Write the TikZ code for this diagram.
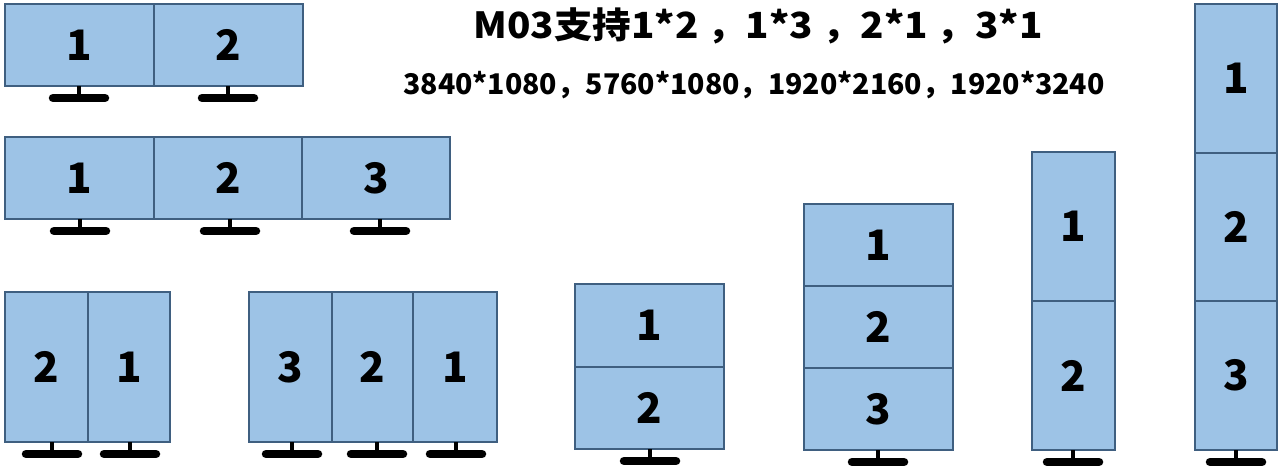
\documentclass[tikz,border=0pt]{standalone}
\usepackage{fontspec}
\newfontfamily\cjk{Noto Sans CJK SC}
\definecolor{panelFill}{HTML}{9DC3E6}
\definecolor{panelLine}{HTML}{3F5F80}

\begin{document}
\begin{tikzpicture}
[x=1pt,y=-1pt,
  panelDecorate/.style={shape=rectangle,draw=panelLine,fill=panelFill,line width=1.6pt,inner sep=0pt,%
    font=\cjk\bfseries\fontsize{42}{42}\selectfont},
  stemDecorate/.style={-,line width=4pt,black},
  baseDecorate/.style={-,line width=8.5pt,line cap=round,black},
  titleDecorate/.style={font=\cjk\bfseries\fontsize{36}{36}\selectfont,inner sep=0pt,xscale=1.07},
  sizeDecorate/.style={font=\cjk\bfseries\fontsize{28.5}{28.5}\selectfont,inner sep=0pt}]
\useasboundingbox (0,0) rectangle (1279,470);
%% screens
\foreach \panelname/\x/\y/\w/\h/\num in {%
  a1/79.5/45/149/82/1, a2/228.5/45/149/82/2,%
  b1/79.5/178/149/82/1, b2/228/178/148/82/2, b3/376/178/148/82/3,%
  c2/46.5/367/83/150/2, c1/129/367/82/150/1,%
  d3/290.5/367/83/150/3, d2/372.5/367/81/150/2, d1/455/367/84/150/1,%
  e1/649.5/325.5/149/83/1, e2/649.5/408/149/82/2,%
  f1/878.5/245/149/82/1, f2/878.5/327/149/82/2, f3/878.5/409/149/82/3,%
  g1/1073.5/226.5/83/149/1, g2/1073.5/375.5/83/149/2,%
  h1/1236/78.5/82/149/1, h2/1236/227/82/148/2, h3/1236/375.5/82/149/3} {
  \node (\panelname) at (\x,\y) [panelDecorate,minimum width=\w pt,minimum height=\h pt] {\num};
}
%% stands
\foreach \x/\y in {79/86, 228/86, 80/219, 230/219, 380/219, 52/442, 130/442,%
  292/442, 377/442, 456/442, 650/449, 878/450, 1073/450, 1236/450} {
  \draw[stemDecorate] (\x,\y) -- ++(0,8);
  \draw[baseDecorate] (\x-26,\y+12) -- (\x+26,\y+12);
}
%% captions
\node (title) at (758,26) [titleDecorate] {M03支持1*2 ，1*3 ，2*1 ，3*1};
\node (sizes) at (754,85) [sizeDecorate] {3840*1080，5760*1080，1920*2160，1920*3240};
\end{tikzpicture}
\end{document}
